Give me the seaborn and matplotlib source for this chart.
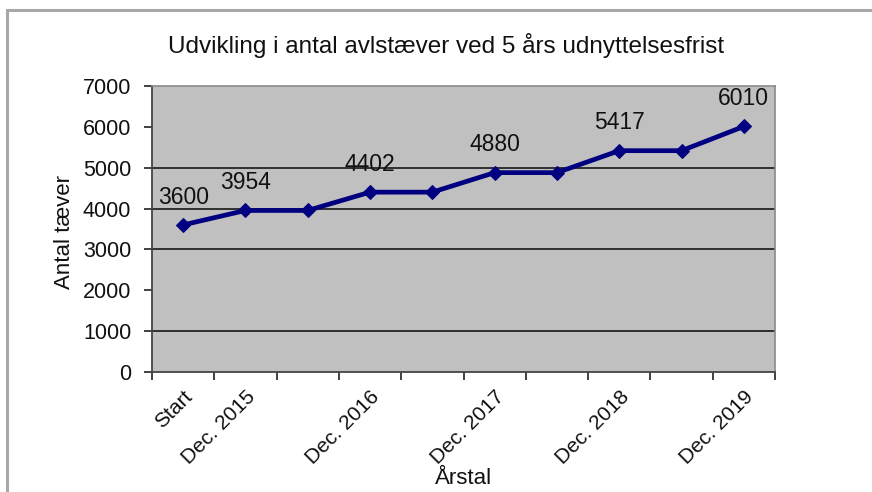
import numpy as np
import pandas as pd
import matplotlib
matplotlib.use("Agg")
import matplotlib.pyplot as plt
import seaborn as sns

# ---- data ----
tick_labels = ["Start", "Dec. 2015", "", "Dec. 2016", "", "Dec. 2017", "", "Dec. 2018", "", "Dec. 2019"]
values = [3600, 3954, 3954, 4402, 4402, 4880, 4880, 5417, 5417, 6010]
point_labels = ["3600", "3954", "", "4402", "", "4880", "", "5417", "", "6010"]
y_ticks = [0, 1000, 2000, 3000, 4000, 5000, 6000, 7000]
grid_values = [1000, 3000, 4000, 5000]

title = "Udvikling i antal avlstæver ved 5 års udnyttelsesfrist"
xlabel = "Årstal"
ylabel = "Antal tæver"

df = pd.DataFrame({"pos": np.arange(len(values)), "value": values})

sns.set_theme(style="white")
plt.rcParams["font.family"] = ["Liberation Sans", "DejaVu Sans"]

W, H = 872, 492
fig = plt.figure(figsize=(W / 100, H / 100), dpi=100)
fig.patch.set_facecolor("white")

# outer chart border (top and left visible)
fig.add_artist(plt.Line2D([7 / W, 7 / W], [0, 1 - 10 / H], transform=fig.transFigure,
                          color="#a8a8a8", lw=2.2))
fig.add_artist(plt.Line2D([7 / W, 1], [1 - 10 / H, 1 - 10 / H], transform=fig.transFigure,
                          color="#a8a8a8", lw=2.2))

left, right, top, bottom = 152, 775, 86, 372
ax = fig.add_axes([left / W, 1 - bottom / H, (right - left) / W, (bottom - top) / H])
ax.set_facecolor("#c0c0c0")

for g in grid_values:
    ax.axhline(g, color="#303030", lw=1.4, zorder=1)

sns.lineplot(data=df, x="pos", y="value", ax=ax, color="#000080", lw=3.4,
             marker="D", markersize=7, markeredgecolor="#000080", zorder=3)

for x, v, lab in zip(df["pos"], values, point_labels):
    if lab:
        ax.annotate(lab, (x, v), xytext=(0, 20), textcoords="offset points",
                    ha="center", va="center", fontsize=16.5, color="#111111")

ax.set_xlim(-0.5, len(values) - 0.5)
ax.set_ylim(0, 7000)
ax.set_yticks(y_ticks)
ax.set_yticklabels([str(t) for t in y_ticks], fontsize=15.5, color="#111111")
ax.tick_params(axis="y", left=True, length=6, width=1.3, color="#333333", pad=9)

ax.set_xticks(np.arange(len(values)))
ax.set_xticklabels(tick_labels, rotation=45, ha="right", rotation_mode="anchor",
                   fontsize=15, color="#111111")
ax.tick_params(axis="x", which="major", length=0, pad=11)
ax.set_xticks(np.arange(-0.5, len(values)), minor=True)
ax.tick_params(axis="x", which="minor", bottom=True, length=6, width=1.3, color="#333333")

for s in ["top", "right"]:
    ax.spines[s].set_color("#8a8a8a")
    ax.spines[s].set_linewidth(1.2)
for s in ["left", "bottom"]:
    ax.spines[s].set_color("#444444")
    ax.spines[s].set_linewidth(1.3)

ax.set_xlabel("")
ax.set_ylabel("")
fig.text((left + right) / 2 / W, 1 - 479 / H, xlabel, ha="center", va="center", fontsize=16, color="#111111")
fig.text(65 / W, 1 - 232 / H, ylabel, ha="center", va="center", rotation=90, fontsize=16, color="#111111")
fig.text(446 / W, 1 - 45 / H, title, ha="center", va="center", fontsize=17.5, color="#111111")

fig.savefig("out.png", dpi=100, facecolor="white")
